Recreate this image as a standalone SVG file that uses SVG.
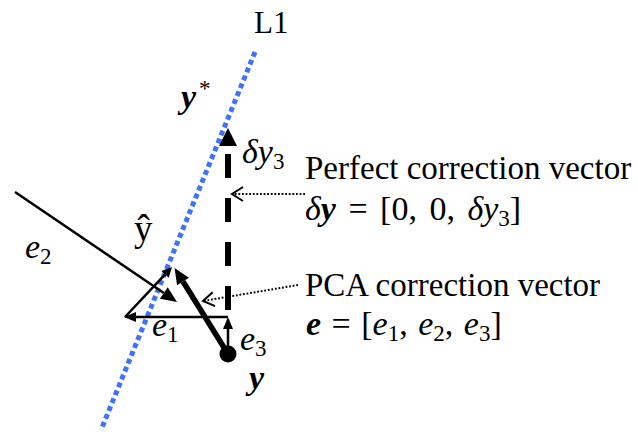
<svg xmlns="http://www.w3.org/2000/svg" width="638" height="432" viewBox="0 0 638 432">
<style>
  text { font-family: "Liberation Serif", "Times New Roman", serif; fill: #000; }
  .lbl { font-size: 33px; }
  .m { font-size: 34px; }
  .it { font-style: italic; }
  .bi { font-style: italic; font-weight: bold; }
  .sub { font-size: 23px; font-style: normal; font-weight: normal; }
  .thin { stroke: #000; stroke-width: 2.5; fill: none; }
  .dot { stroke: #000; stroke-width: 2; fill: none; stroke-dasharray: 1.8 1.8; }
</style>
<defs>
  <marker id="hSmall" markerUnits="userSpaceOnUse" orient="auto" markerWidth="14" markerHeight="14" refX="0" refY="0" viewBox="0 -7 14 14" overflow="visible">
    <path d="M0,-5 L12,0 L0,5 z" fill="#000"/>
  </marker>
  <marker id="hTiny" markerUnits="userSpaceOnUse" orient="auto" markerWidth="12" markerHeight="12" refX="0" refY="0" viewBox="0 -6 12 12" overflow="visible">
    <path d="M0,-5 L10,0 L0,5 z" fill="#000"/>
  </marker>
  <marker id="hMid" markerUnits="userSpaceOnUse" orient="auto" markerWidth="18" markerHeight="18" refX="0" refY="0" viewBox="0 -9 18 18" overflow="visible">
    <path d="M0,-7 L16,0 L0,7 z" fill="#000"/>
  </marker>
  <marker id="hBig" markerUnits="userSpaceOnUse" orient="auto" markerWidth="20" markerHeight="20" refX="0" refY="0" viewBox="0 -10 20 20" overflow="visible">
    <path d="M0,-9 L18,0 L0,9 z" fill="#000"/>
  </marker>
  <marker id="hOpen" markerUnits="userSpaceOnUse" orient="auto" markerWidth="14" markerHeight="16" refX="11" refY="0" viewBox="0 -8 14 16" overflow="visible">
    <path d="M0,-7 L11,0 L0,7" fill="none" stroke="#000" stroke-width="2"/>
  </marker>
</defs>

<g id="line-L1">
  <path d="M255,52 L101,430" stroke="#3f72f4" stroke-width="5" stroke-dasharray="5 3.5" fill="none"/>
  <text class="lbl" x="254" y="33" style="font-size:31px">L1</text>
</g>

<g id="connectors">
  <path id="perfect-vector" d="M228,310 V146" stroke="#000" stroke-width="6" stroke-dasharray="24 20" fill="none" marker-end="url(#hBig)"/>
  <path id="e2-arrow" class="thin" d="M15,192 L163.8,293" marker-end="url(#hMid)"/>
  <path id="e1-arrow" class="thin" d="M228,317 H136" marker-end="url(#hSmall)"/>
  <path id="e3-arrow" class="thin" d="M228,346 V329" marker-end="url(#hSmall)"/>
  <path id="hyp-arrow" class="thin" d="M125,317 L165.1,274.3" marker-end="url(#hTiny)"/>
  <path id="pca-vector" d="M228,354 L183,281.5" stroke="#000" stroke-width="5.5" fill="none" marker-end="url(#hMid)"/>
  <path id="perfect-pointer" class="dot" d="M305,194 H232" marker-end="url(#hOpen)"/>
  <path id="pca-pointer" class="dot" d="M298,285 L203,301" marker-end="url(#hOpen)"/>
</g>

<g id="point-y">
  <circle cx="228" cy="354" r="8.5" fill="#000"/>
  <text class="m bi" x="249" y="389">y</text>
</g>

<g id="point-ystar">
  <text class="m bi" x="181" y="108">y<tspan class="sub" dx="3" dy="-12">*</tspan></text>
</g>

<g id="point-yhat">
  <text class="lbl" x="134" y="241" style="font-size:37px">ŷ</text>
</g>

<g id="labels">
  <text class="m it" x="242" y="163">δy<tspan class="sub" dy="6">3</tspan></text>
  <text class="m it" x="25" y="258">e<tspan class="sub" dy="6">2</tspan></text>
  <text class="m it" x="152" y="336">e<tspan class="sub" dy="6">1</tspan></text>
  <text class="m it" x="240" y="350">e<tspan class="sub" dy="6">3</tspan></text>
</g>

<g id="note-perfect">
  <text class="lbl" x="305" y="179">Perfect correction vector</text>
  <text class="m" x="305" y="220" style="word-spacing:4px"><tspan class="it">δ</tspan><tspan class="bi">y</tspan> = [0, 0, <tspan class="it">δy</tspan><tspan class="sub" dy="6">3</tspan><tspan dy="-6">]</tspan></text>
</g>

<g id="note-pca">
  <text class="lbl" x="305" y="296">PCA correction vector</text>
  <text class="m" x="306" y="335" style="word-spacing:2px"><tspan class="bi">e</tspan> = [<tspan class="it">e</tspan><tspan class="sub" dy="6">1</tspan><tspan dy="-6">, </tspan><tspan class="it">e</tspan><tspan class="sub" dy="6">2</tspan><tspan dy="-6">, </tspan><tspan class="it">e</tspan><tspan class="sub" dy="6">3</tspan><tspan dy="-6">]</tspan></text>
</g>
</svg>
